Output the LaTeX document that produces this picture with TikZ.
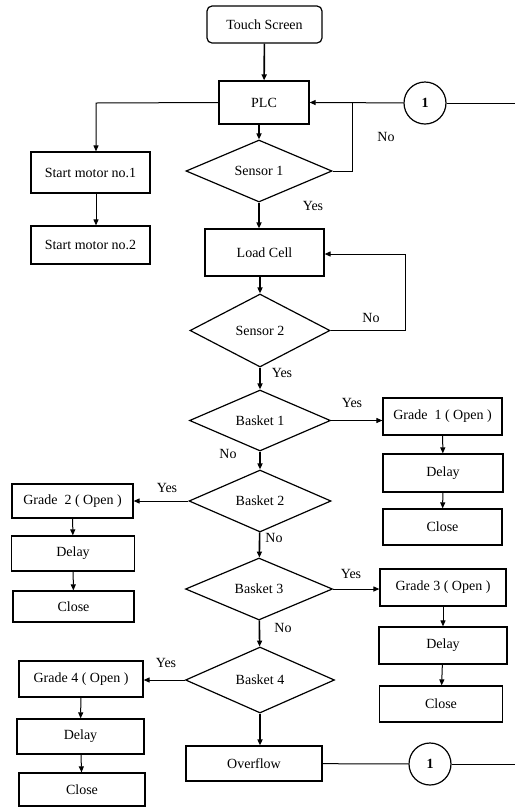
\documentclass[tikz,border=0pt]{standalone}
\usepackage{fontspec}
\setmainfont{Liberation Serif}
\usetikzlibrary{arrows.meta,shapes.geometric}
\begin{document}
\begin{tikzpicture}[x=1pt, y=-1pt,
    >={Triangle[length=6pt,width=5pt]},
    every node/.style={font=\fontsize{14}{16}\selectfont},
    box/.style={draw, line width=1.2pt, inner sep=1pt},
    start/.style={box, rounded corners=5pt},
    decide/.style={draw, diamond, line width=1.2pt, inner sep=0pt},
    conn/.style={draw, circle, line width=1.2pt, minimum size=42pt, inner sep=0pt,
      font=\fontsize{14}{16}\selectfont\bfseries},
    edge/.style={->, line width=1pt},
    spine/.style={->, line width=1.6pt},
    line/.style={line width=1pt}]

  \useasboundingbox (0,0) rectangle (515,807);

  % main column
  \node[start, minimum width=115pt, minimum height=37pt] (ts) at (264.5,24.5) {Touch Screen};
  \node[box, minimum width=90pt,  minimum height=43pt] (plc) at (264,102.5) {PLC};
  \node[decide, minimum width=146pt, minimum height=62pt] (s1) at (259,171) {Sensor 1};
  \node[box, minimum width=119pt, minimum height=47pt] (lc) at (264.5,252.5) {Load Cell};
  \node[decide, minimum width=140pt, minimum height=73pt] (s2) at (260,330.5) {Sensor 2};
  \node[decide, minimum width=141pt, minimum height=61pt] (b1) at (260,420.5) {Basket 1};
  \node[decide, minimum width=142pt, minimum height=62pt] (b2) at (260,501) {Basket 2};
  \node[decide, minimum width=147pt, minimum height=62pt] (b3) at (259,589) {Basket 3};
  \node[decide, minimum width=149pt, minimum height=66pt] (b4) at (260,680) {Basket 4};
  \node[box, minimum width=136pt, minimum height=35pt] (ov) at (254,763.5) {Overflow};

  % connectors
  \node[conn] (c1) at (425,103) {1};
  \node[conn] (c2) at (430,764) {1};
  \coordinate (r1) at (515,103);
  \coordinate (r2) at (515,764);
  \coordinate (j1) at (352,103);
  \coordinate (j2) at (405,254);
  \coordinate (k1) at (96,103);

  % motors
  \node[box, minimum width=119pt, minimum height=41pt] (m1) at (90.5,172.5) {Start motor no.1};
  \node[box, minimum width=119pt, minimum height=38pt] (m2) at (90.5,245) {Start motor no.2};

  % grade 1
  \node[box, minimum width=119pt, minimum height=37pt] (g1) at (442.5,416.5) {Grade\ \ 1 ( Open )};
  \node[box, minimum width=120pt, minimum height=38pt] (d1) at (443,473) {Delay};
  \node[box, minimum width=119pt, minimum height=36pt] (e1) at (442.5,527) {Close};

  % grade 2
  \node[box, minimum width=121pt, minimum height=34pt] (g2) at (72.5,501) {Grade\ \ 2 ( Open )};
  \node[box, minimum width=123pt, minimum height=35pt] (d2) at (73,553.5) {Delay};
  \node[box, minimum width=121pt, minimum height=31pt] (e2) at (73.5,606.5) {Close};

  % grade 3
  \node[box, minimum width=126pt, minimum height=37pt] (g3) at (443,587.5) {Grade 3 ( Open )};
  \node[box, minimum width=128pt, minimum height=37pt] (d3) at (443,645.5) {Delay};
  \node[box, minimum width=123pt, minimum height=36pt] (e3) at (441,704) {Close};

  % grade 4
  \node[box, minimum width=124pt, minimum height=36pt] (g4) at (81,679) {Grade 4 ( Open )};
  \node[box, minimum width=127pt, minimum height=35pt] (d4) at (80.5,736.5) {Delay};
  \node[box, minimum width=126pt, minimum height=33pt] (e4) at (82,789.5) {Close};

  % spine
  \draw[spine] (ts) -- (plc);
  \draw[spine] (plc.south -| s1.north) -- (s1.north);
  \draw[spine] (s1.south) -- (s1.south |- lc.north);
  \draw[spine] (s2.north |- lc.south) -- (s2.north);
  \draw[spine] (s2) -- (b1);
  \draw[spine] (b1) -- (b2);
  \draw[spine] (b2) -- (b3);
  \draw[spine] (b3) -- (b4);
  \draw[spine] (b4.south) -- (b4.south |- ov.north);

  % loops
  \draw[edge] (c1) -- (plc.east);
  \draw[line] (c1) -- (r1);
  \draw[line] (s1.east) -| (j1);
  \draw[edge] (s2.east) -| (j2) -- (j2 -| lc.east);
  \draw[line] (ov) -- (c2);
  \draw[line] (c2) -- (r2);

  % branches
  \draw[edge] (plc.west) -- (k1) -- (k1 |- m1.north);
  \draw[edge] (k1 |- m1.south) -- (k1 |- m2.north);
  \draw[edge] (b1.east) -- (b1.east -| g1.west);
  \draw[edge] (b2.west) -- (b2.west -| g2.east);
  \draw[edge] (b3.east) -- (b3.east -| g3.west);
  \draw[edge] (b4.west) -- (b4.west -| g4.east);
  \draw[edge] (g1) -- (d1);
  \draw[edge] (d1) -- (e1);
  \draw[edge] (g2) -- (d2);
  \draw[edge] (d2) -- (e2);
  \draw[edge] (g3) -- (d3);
  \draw[edge] (d3) -- (e3);
  \draw[edge] (g4) -- (d4);
  \draw[edge] (d4) -- (e4);

  % labels
  \node (no1)  at (386,137) {No};
  \node (yes1) at (313,206) {Yes};
  \node (no2)  at (371,318) {No};
  \node (yes2) at (282,373) {Yes};
  \node (yes3) at (352,403) {Yes};
  \node (no3)  at (228,454) {No};
  \node (yes4) at (167,488) {Yes};
  \node (no4)  at (274,538) {No};
  \node (yes5) at (351,574) {Yes};
  \node (no5)  at (283,628) {No};
  \node (yes6) at (166,663) {Yes};
\end{tikzpicture}
\end{document}
